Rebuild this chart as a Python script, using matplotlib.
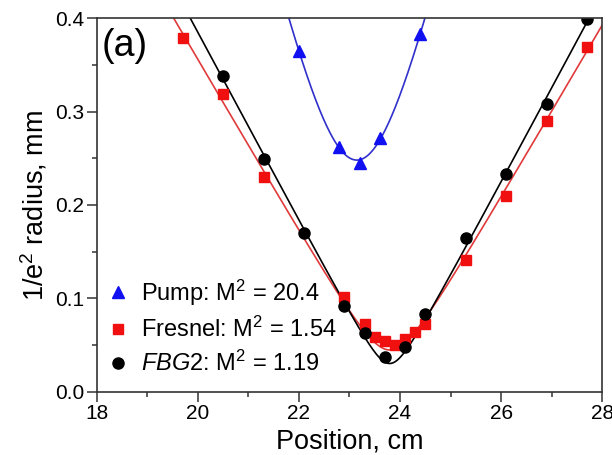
import numpy as np
import matplotlib.pyplot as plt
from matplotlib.ticker import MultipleLocator

plt.rcParams['font.family'] = ['Liberation Sans', 'DejaVu Sans']
plt.rcParams['mathtext.fontset'] = 'custom'
plt.rcParams['mathtext.rm'] = 'Liberation Sans'
plt.rcParams['mathtext.it'] = 'Liberation Sans:italic'

# beam radius measurements along the caustic
pump_x = [22.0, 22.8, 23.2, 23.6, 24.4]
pump_y = [0.365, 0.262, 0.245, 0.272, 0.383]

fresnel_x = [19.7, 20.5, 21.3, 22.9, 23.3, 23.5, 23.7, 23.9, 24.1, 24.3, 24.5, 25.3, 26.1, 26.9, 27.7]
fresnel_y = [0.379, 0.319, 0.230, 0.101, 0.0725, 0.059, 0.054, 0.050, 0.057, 0.064, 0.073, 0.141, 0.210, 0.290, 0.369]

fbg_x = [20.5, 21.3, 22.1, 22.9, 23.3, 23.7, 24.1, 24.5, 25.3, 26.1, 26.9, 27.7]
fbg_y = [0.338, 0.249, 0.170, 0.092, 0.063, 0.037, 0.048, 0.083, 0.165, 0.233, 0.308, 0.399]

labels = ['Pump: M$^2$ = 20.4', 'Fresnel: M$^2$ = 1.54', '$\\mathit{FBG}$2: M$^2$ = 1.19']


def caustic_fit(x, y, z):
    # w^2 is quadratic in z for a gaussian-like beam
    c = np.polyfit(x, np.array(y) ** 2, 2)
    return np.sqrt(np.clip(np.polyval(c, z), 0, None))


fig = plt.figure(figsize=(6.12, 4.55), dpi=100)
ax = fig.add_axes([0.158, 0.139, 0.826, 0.821])

z = np.linspace(18, 28, 600)
ax.plot(z, caustic_fit(pump_x, pump_y, z), color='#3030cc', lw=1.2)
ax.plot(z, caustic_fit(fresnel_x, fresnel_y, z), color='#e03a3a', lw=1.2)
ax.plot(z, caustic_fit(fbg_x, fbg_y, z), color='black', lw=1.2)

ax.plot(pump_x, pump_y, '^', color='#1010f0', ms=8, ls='none', label=labels[0])
ax.plot(fresnel_x, fresnel_y, 's', color='#f01010', ms=7, ls='none', label=labels[1])
ax.plot(fbg_x, fbg_y, 'o', color='black', ms=8, ls='none', label=labels[2])

ax.set_xlim(18, 28)
ax.set_ylim(0, 0.4)
ax.xaxis.set_major_locator(MultipleLocator(2))
ax.xaxis.set_minor_locator(MultipleLocator(1))
ax.yaxis.set_major_locator(MultipleLocator(0.1))
ax.yaxis.set_minor_locator(MultipleLocator(0.05))
ax.yaxis.set_major_formatter(plt.FormatStrFormatter('%.1f'))
ax.tick_params(which='both', direction='out', top=False, right=False, labelsize=15,
               color='#333333')
ax.tick_params(which='major', length=7, width=1.1, pad=2)
ax.tick_params(which='minor', length=3.5, width=1.1)
for s in ax.spines.values():
    s.set_color('#333333')
    s.set_linewidth(1.2)

ax.set_xlabel('Position, cm', fontsize=19.5, labelpad=4)
ax.set_ylabel('1/e$^2$ radius, mm', fontsize=19.5, labelpad=4)
ax.text(0.01, 0.975, '(a)', transform=ax.transAxes, fontsize=27, va='top', ha='left')

ax.legend(loc='center left', bbox_to_anchor=(0.005, 0.174), frameon=False, fontsize=17,
          handletextpad=0.45, handlelength=1.0, borderaxespad=0.0, borderpad=0.3,
          labelspacing=0.38)

fig.savefig('out.png', dpi=100)
